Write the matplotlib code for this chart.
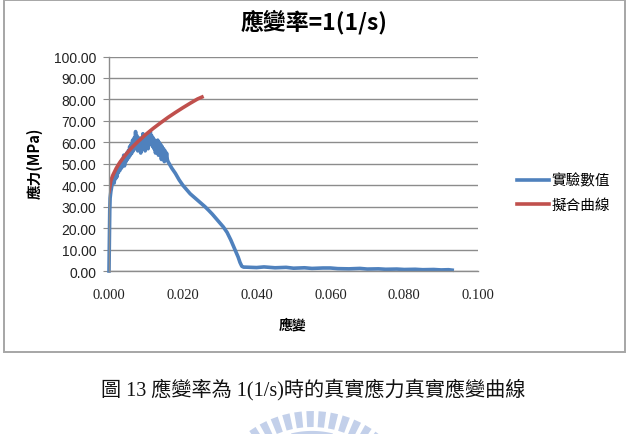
import matplotlib
matplotlib.use("Agg")
import matplotlib.pyplot as plt
from matplotlib.patches import Rectangle, Polygon
import numpy as np

plt.rcParams['font.family'] = ['Noto Sans CJK TC', 'DejaVu Sans']

# ---------------- data ----------------
title_text = "應變率=1(1/s)"
x_label = "應變"
y_label = "應力(MPa)"
series_names = ["實驗數值", "擬合曲線"]
caption = "圖 13 應變率為 1(1/s)時的真實應力真實應變曲線"

exp_strain = [
    0.0000, 0.0001, 0.0002, 0.0003, 0.0005, 0.0008,
    0.0010, 0.0012, 0.0014, 0.0016, 0.0018, 0.0020, 0.0022, 0.0024, 0.0026, 0.0028,
    0.0030, 0.0032, 0.0034, 0.0036, 0.0038, 0.0040, 0.0042, 0.0044, 0.0046, 0.0048,
    0.0050, 0.0052, 0.0054, 0.0056, 0.0058, 0.0060, 0.0062, 0.0064, 0.0066, 0.0068,
    0.0070, 0.0072, 0.0074, 0.0076, 0.0078, 0.0080, 0.0082, 0.0084, 0.0086, 0.0088,
    0.0090, 0.0092, 0.0094, 0.0096, 0.0098, 0.0100, 0.0102, 0.0104, 0.0106, 0.0108,
    0.0110, 0.0112, 0.0114, 0.0116, 0.0118, 0.0120, 0.0122, 0.0124, 0.0126, 0.0128,
    0.0130, 0.0132, 0.0134, 0.0136, 0.0138, 0.0140, 0.0142, 0.0144, 0.0146, 0.0148,
    0.0150, 0.0152, 0.0154, 0.0156, 0.0158,
    0.0160, 0.0170, 0.0180, 0.0190, 0.0200, 0.0210, 0.0220, 0.0230, 0.0240, 0.0250,
    0.0260, 0.0270, 0.0280, 0.0290, 0.0300, 0.0310, 0.0320, 0.0330, 0.0340, 0.0350,
    0.0355, 0.0360, 0.0365, 0.0370,
    0.0400, 0.0420, 0.0450, 0.0480, 0.0500, 0.0530, 0.0550, 0.0580, 0.0600, 0.0620,
    0.0650, 0.0680, 0.0700, 0.0730, 0.0750, 0.0780, 0.0800, 0.0830, 0.0850, 0.0880,
    0.0900, 0.0920, 0.0930,
]
exp_stress = [
    0.0, 15.0, 28.0, 34.0, 37.0, 40.0,
    42.0, 44.0, 41.0, 45.0, 43.0, 47.0, 44.0, 48.0, 46.0, 50.0,
    47.0, 51.0, 48.0, 52.0, 50.0, 54.0, 49.0, 53.0, 51.0, 55.0,
    52.0, 56.0, 53.0, 58.0, 54.0, 59.0, 55.0, 61.0, 56.0, 62.0,
    57.0, 65.0, 58.0, 63.0, 56.0, 61.0, 57.0, 62.0, 55.0, 60.0,
    58.0, 64.0, 57.0, 62.0, 56.0, 61.0, 58.0, 63.0, 57.0, 64.0,
    59.0, 65.0, 60.0, 63.0, 58.0, 62.0, 57.0, 61.0, 55.0, 60.0,
    56.0, 61.0, 54.0, 60.0, 55.0, 59.0, 52.0, 58.0, 53.0, 57.0,
    51.0, 56.0, 52.0, 55.0, 52.0,
    51.0, 48.0, 45.5, 42.5, 40.0, 38.0, 36.0, 34.5, 33.0, 31.5,
    30.0, 28.3, 26.5, 24.5, 22.5, 20.5, 18.0, 14.5, 10.5, 6.5,
    4.0, 2.2, 1.8, 1.8,
    1.6, 1.9, 1.5, 1.7, 1.3, 1.5, 1.2, 1.4, 1.4, 1.1,
    1.0, 1.2, 0.9, 1.0, 0.8, 0.9, 0.7, 0.8, 0.6, 0.7,
    0.5, 0.6, 0.4,
]

fit_strain = [0.0000, 0.0005, 0.0010, 0.0020, 0.0030, 0.0040, 0.0050, 0.0060,
              0.0080, 0.0100, 0.0120, 0.0140, 0.0160, 0.0180, 0.0200, 0.0220,
              0.0240, 0.0252]
fit_stress = [37.0, 42.1, 44.5, 48.0, 50.8, 53.1, 55.2, 57.2,
              60.6, 63.7, 66.5, 69.1, 71.6, 73.9, 76.1, 78.2,
              80.2, 81.1]

x_ticks = [0.000, 0.020, 0.040, 0.060, 0.080, 0.100]
y_ticks = [0, 10, 20, 30, 40, 50, 60, 70, 80, 90, 100]

# ---------------- figure ----------------
W, H = 628, 435
fig = plt.figure(figsize=(W / 100, H / 100), dpi=100)

def fx(px):
    return px / W

def fy(py):
    return 1 - py / H

# outer chart border
fig.patches.append(Rectangle((fx(4), fy(353)), fx(625) - fx(4), fy(0.5) - fy(353),
                             transform=fig.transFigure, fill=False,
                             edgecolor='#a6a6a6', linewidth=1.4))

ax = fig.add_axes([fx(109), fy(272), fx(478) - fx(109), fy(57.5) - fy(272)])
ax.set_xlim(0, 0.1)
ax.set_ylim(0, 100)
ax.set_yticks(y_ticks)
ax.set_xticks(x_ticks)
ax.set_yticklabels([f"{v:.2f}" for v in y_ticks], fontsize=10,
                   family=['Liberation Sans', 'DejaVu Sans'], color='#222222')
ax.set_xticklabels([f"{v:.3f}" for v in x_ticks], fontsize=10.5,
                   family=['Liberation Serif', 'DejaVu Serif'], color='#222222')
ax.grid(axis='y', color='#8c8c8c', linewidth=1.0)
ax.set_axisbelow(True)
for s in ['top', 'right']:
    ax.spines[s].set_visible(False)
for s in ['left', 'bottom']:
    ax.spines[s].set_color('#8c8c8c')
    ax.spines[s].set_linewidth(1.0)
ax.tick_params(axis='y', length=4, color='#8c8c8c', pad=5)
ax.tick_params(axis='x', length=0, pad=12)

l1, = ax.plot(exp_strain, exp_stress, color='#4f81bd', linewidth=2.6,
              solid_joinstyle='round', label=series_names[0], clip_on=False)
l2, = ax.plot(fit_strain, fit_stress, color='#c0504d', linewidth=2.6,
              label=series_names[1])

fig.text(fx(314), fy(22), title_text, ha='center', va='center',
         fontsize=16.5, fontweight='bold')
fig.text(fx(35), fy(163), y_label, ha='center', va='center', rotation=90,
         fontsize=10.5, fontweight='bold')
fig.text(fx(293), fy(326), x_label, ha='center', va='center',
         fontsize=10, fontweight='bold')

leg = fig.legend(handles=[l1, l2], labels=series_names, loc='upper left',
                 bbox_to_anchor=(fx(513), fy(170)), frameon=False, fontsize=10.5,
                 handlelength=2.2, handletextpad=0.15, labelspacing=0.7,
                 borderaxespad=0, borderpad=0.3)

fig.text(fx(313), fy(390), caption, ha='center', va='center', fontsize=14.5,
         family=['Liberation Serif', 'Noto Sans CJK TC'], color='#111111')

# faint watermark (decorative)
cx, cy = 312, 520
for a in np.arange(52, 130, 6.5):
    t1, t2 = np.radians(a - 2.0), np.radians(a + 2.0)
    r1, r2 = 92, 108
    pts = [(cx + r1 * np.cos(t1), cy - r1 * np.sin(t1)),
           (cx + r2 * np.cos(t1), cy - r2 * np.sin(t1)),
           (cx + r2 * np.cos(t2), cy - r2 * np.sin(t2)),
           (cx + r1 * np.cos(t2), cy - r1 * np.sin(t2))]
    fig.patches.append(Polygon([(fx(p[0]), fy(p[1])) for p in pts],
                               closed=True, transform=fig.transFigure,
                               facecolor='#c3d0ea', edgecolor='none'))
arc_t = np.radians(np.linspace(42, 138, 60))
arc_x = [fx(cx + 86 * np.cos(t)) for t in arc_t]
arc_y = [fy(cy - 86 * np.sin(t)) for t in arc_t]
fig.lines.append(plt.Line2D(arc_x, arc_y, transform=fig.transFigure,
                            color='#c3d0ea', linewidth=3))

fig.savefig("out.png", dpi=100)
